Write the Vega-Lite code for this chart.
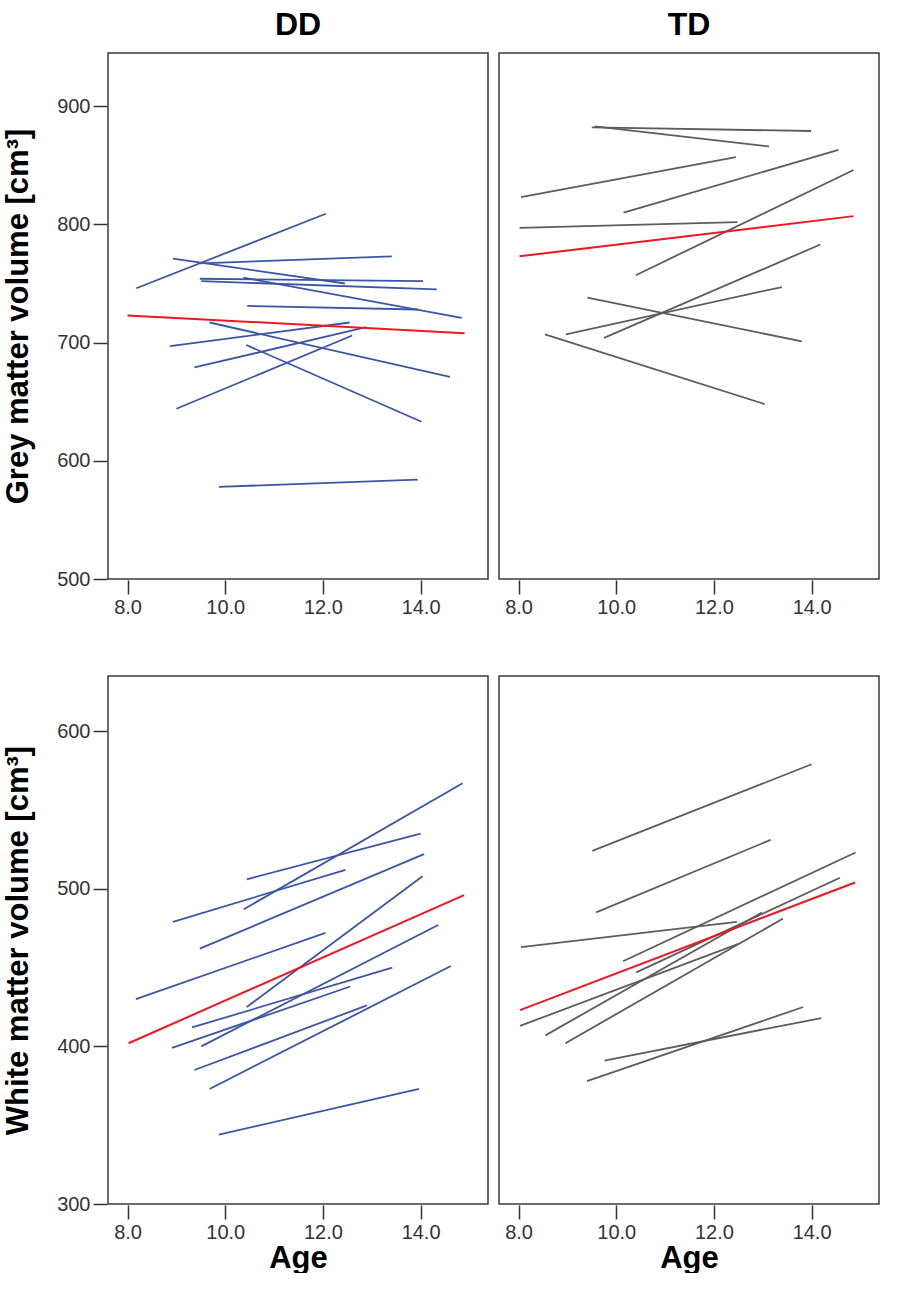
{
  "$schema": "https://vega.github.io/schema/vega-lite/v6.json",
  "background": "white",
  "padding": {"left": 2, "top": 9, "right": 0, "bottom": 0},
  "config": {
    "font": "Liberation Sans",
    "view": {"stroke": "#3a3a3a", "strokeWidth": 1.5},
    "axis": {
      "labelFont": "Liberation Sans",
      "labelFontSize": 20,
      "labelColor": "#333333",
      "tickColor": "#333333",
      "tickWidth": 1.5,
      "tickSize": 14,
      "labelPadding": 3,
      "domain": false,
      "grid": false,
      "titleFont": "Liberation Sans",
      "titleFontSize": 31,
      "titleFontWeight": "bold",
      "titleColor": "black"
    },
    "concat": {"spacing": 58}
  },
  "datasets": {
    "grey": [
      {"group": "DD", "id": "g1", "series": "DD", "age": 8.18, "vol": 746},
      {"group": "DD", "id": "g1", "series": "DD", "age": 12.06, "vol": 809},
      {"group": "DD", "id": "g2", "series": "DD", "age": 8.93, "vol": 771},
      {"group": "DD", "id": "g2", "series": "DD", "age": 12.45, "vol": 750},
      {"group": "DD", "id": "g3", "series": "DD", "age": 9.48, "vol": 767},
      {"group": "DD", "id": "g3", "series": "DD", "age": 13.41, "vol": 773},
      {"group": "DD", "id": "g4", "series": "DD", "age": 9.48, "vol": 754},
      {"group": "DD", "id": "g4", "series": "DD", "age": 14.05, "vol": 752},
      {"group": "DD", "id": "g5", "series": "DD", "age": 9.51, "vol": 752},
      {"group": "DD", "id": "g5", "series": "DD", "age": 14.33, "vol": 745},
      {"group": "DD", "id": "g6", "series": "DD", "age": 10.37, "vol": 755},
      {"group": "DD", "id": "g6", "series": "DD", "age": 14.84, "vol": 721},
      {"group": "DD", "id": "g7", "series": "DD", "age": 10.45, "vol": 731},
      {"group": "DD", "id": "g7", "series": "DD", "age": 13.95, "vol": 728},
      {"group": "DD", "id": "g8", "series": "DD", "age": 9.68, "vol": 717},
      {"group": "DD", "id": "g8", "series": "DD", "age": 14.6, "vol": 671},
      {"group": "DD", "id": "g9", "series": "DD", "age": 8.87, "vol": 697},
      {"group": "DD", "id": "g9", "series": "DD", "age": 12.55, "vol": 717},
      {"group": "DD", "id": "g10", "series": "DD", "age": 9.37, "vol": 679},
      {"group": "DD", "id": "g10", "series": "DD", "age": 12.89, "vol": 713},
      {"group": "DD", "id": "g11", "series": "DD", "age": 10.43, "vol": 698},
      {"group": "DD", "id": "g11", "series": "DD", "age": 14.02, "vol": 633},
      {"group": "DD", "id": "g12", "series": "DD", "age": 9.0, "vol": 644},
      {"group": "DD", "id": "g12", "series": "DD", "age": 12.6, "vol": 706},
      {"group": "DD", "id": "g13", "series": "DD", "age": 9.87, "vol": 578},
      {"group": "DD", "id": "g13", "series": "DD", "age": 13.94, "vol": 584},
      {"group": "DD", "id": "gm", "series": "Mean", "age": 8.0, "vol": 723},
      {"group": "DD", "id": "gm", "series": "Mean", "age": 14.9, "vol": 708},
      {"group": "TD", "id": "t1", "series": "TD", "age": 9.5, "vol": 882},
      {"group": "TD", "id": "t1", "series": "TD", "age": 13.99, "vol": 879},
      {"group": "TD", "id": "t2", "series": "TD", "age": 9.56, "vol": 883},
      {"group": "TD", "id": "t2", "series": "TD", "age": 13.13, "vol": 866},
      {"group": "TD", "id": "t3", "series": "TD", "age": 8.05, "vol": 823},
      {"group": "TD", "id": "t3", "series": "TD", "age": 12.45, "vol": 857},
      {"group": "TD", "id": "t4", "series": "TD", "age": 10.15, "vol": 810},
      {"group": "TD", "id": "t4", "series": "TD", "age": 14.55, "vol": 863},
      {"group": "TD", "id": "t5", "series": "TD", "age": 8.02, "vol": 797},
      {"group": "TD", "id": "t5", "series": "TD", "age": 12.48, "vol": 802},
      {"group": "TD", "id": "t6", "series": "TD", "age": 10.4, "vol": 757},
      {"group": "TD", "id": "t6", "series": "TD", "age": 14.86, "vol": 846},
      {"group": "TD", "id": "t7", "series": "TD", "age": 9.75, "vol": 704},
      {"group": "TD", "id": "t7", "series": "TD", "age": 14.18, "vol": 783},
      {"group": "TD", "id": "t8", "series": "TD", "age": 8.97, "vol": 707},
      {"group": "TD", "id": "t8", "series": "TD", "age": 13.39, "vol": 747},
      {"group": "TD", "id": "t9", "series": "TD", "age": 9.41, "vol": 738},
      {"group": "TD", "id": "t9", "series": "TD", "age": 13.8, "vol": 701},
      {"group": "TD", "id": "t10", "series": "TD", "age": 8.54, "vol": 707},
      {"group": "TD", "id": "t10", "series": "TD", "age": 13.04, "vol": 648},
      {"group": "TD", "id": "tm", "series": "Mean", "age": 8.02, "vol": 773},
      {"group": "TD", "id": "tm", "series": "Mean", "age": 14.86, "vol": 807}
    ],
    "white": [
      {"group": "DD", "id": "w1", "series": "DD", "age": 8.17, "vol": 430},
      {"group": "DD", "id": "w1", "series": "DD", "age": 12.05, "vol": 472},
      {"group": "DD", "id": "w2", "series": "DD", "age": 8.91, "vol": 399},
      {"group": "DD", "id": "w2", "series": "DD", "age": 12.56, "vol": 438},
      {"group": "DD", "id": "w3", "series": "DD", "age": 8.93, "vol": 479},
      {"group": "DD", "id": "w3", "series": "DD", "age": 12.46, "vol": 512},
      {"group": "DD", "id": "w4", "series": "DD", "age": 9.32, "vol": 412},
      {"group": "DD", "id": "w4", "series": "DD", "age": 13.42, "vol": 450},
      {"group": "DD", "id": "w5", "series": "DD", "age": 9.37, "vol": 385},
      {"group": "DD", "id": "w5", "series": "DD", "age": 12.9, "vol": 426},
      {"group": "DD", "id": "w6", "series": "DD", "age": 9.48, "vol": 462},
      {"group": "DD", "id": "w6", "series": "DD", "age": 14.07, "vol": 522},
      {"group": "DD", "id": "w7", "series": "DD", "age": 9.51, "vol": 400},
      {"group": "DD", "id": "w7", "series": "DD", "age": 14.36, "vol": 477},
      {"group": "DD", "id": "w8", "series": "DD", "age": 9.68, "vol": 373},
      {"group": "DD", "id": "w8", "series": "DD", "age": 14.62, "vol": 451},
      {"group": "DD", "id": "w9", "series": "DD", "age": 9.87, "vol": 344},
      {"group": "DD", "id": "w9", "series": "DD", "age": 13.97, "vol": 373},
      {"group": "DD", "id": "w10", "series": "DD", "age": 10.38, "vol": 487},
      {"group": "DD", "id": "w10", "series": "DD", "age": 14.86, "vol": 567},
      {"group": "DD", "id": "w11", "series": "DD", "age": 10.44, "vol": 506},
      {"group": "DD", "id": "w11", "series": "DD", "age": 14.0, "vol": 535},
      {"group": "DD", "id": "w12", "series": "DD", "age": 10.44, "vol": 425},
      {"group": "DD", "id": "w12", "series": "DD", "age": 14.04, "vol": 508},
      {"group": "DD", "id": "wm", "series": "Mean", "age": 8.02, "vol": 402},
      {"group": "DD", "id": "wm", "series": "Mean", "age": 14.89, "vol": 496},
      {"group": "TD", "id": "v1", "series": "TD", "age": 9.51, "vol": 524},
      {"group": "TD", "id": "v1", "series": "TD", "age": 14.0, "vol": 579},
      {"group": "TD", "id": "v2", "series": "TD", "age": 9.59, "vol": 485},
      {"group": "TD", "id": "v2", "series": "TD", "age": 13.16, "vol": 531},
      {"group": "TD", "id": "v3", "series": "TD", "age": 8.05, "vol": 463},
      {"group": "TD", "id": "v3", "series": "TD", "age": 12.47, "vol": 479},
      {"group": "TD", "id": "v4", "series": "TD", "age": 10.14, "vol": 454},
      {"group": "TD", "id": "v4", "series": "TD", "age": 14.9, "vol": 523},
      {"group": "TD", "id": "v5", "series": "TD", "age": 10.41, "vol": 447},
      {"group": "TD", "id": "v5", "series": "TD", "age": 14.58, "vol": 507},
      {"group": "TD", "id": "v6", "series": "TD", "age": 8.03, "vol": 413},
      {"group": "TD", "id": "v6", "series": "TD", "age": 12.5, "vol": 465},
      {"group": "TD", "id": "v7", "series": "TD", "age": 8.55, "vol": 407},
      {"group": "TD", "id": "v7", "series": "TD", "age": 12.98, "vol": 485},
      {"group": "TD", "id": "v8", "series": "TD", "age": 8.96, "vol": 402},
      {"group": "TD", "id": "v8", "series": "TD", "age": 13.41, "vol": 481},
      {"group": "TD", "id": "v9", "series": "TD", "age": 9.76, "vol": 391},
      {"group": "TD", "id": "v9", "series": "TD", "age": 14.2, "vol": 418},
      {"group": "TD", "id": "v10", "series": "TD", "age": 9.4, "vol": 378},
      {"group": "TD", "id": "v10", "series": "TD", "age": 13.83, "vol": 425},
      {"group": "TD", "id": "vm", "series": "Mean", "age": 8.03, "vol": 423},
      {"group": "TD", "id": "vm", "series": "Mean", "age": 14.89, "vol": 504}
    ]
  },
  "vconcat": [
    {
      "data": {"name": "grey"},
      "facet": {
        "column": {
          "field": "group",
          "type": "nominal",
          "header": {
            "title": null,
            "labelFont": "Liberation Sans",
            "labelFontSize": 32,
            "labelFontWeight": "bold",
            "labelColor": "black",
            "labelPadding": 10
          }
        }
      },
      "spacing": 9,
      "spec": {
        "width": 380,
        "height": 526,
        "encoding": {
          "x": {
            "field": "age",
            "type": "quantitative",
            "scale": {"domain": [7.6, 15.38], "nice": false, "zero": false},
            "axis": {"values": [8, 10, 12, 14], "format": ".1f", "title": null}
          },
          "y": {
            "field": "vol",
            "type": "quantitative",
            "scale": {"domain": [500, 945], "nice": false, "zero": false},
            "axis": {"values": [500, 600, 700, 800, 900], "title": "Grey matter volume [cm³]", "titlePadding": 22}
          },
          "color": {
            "field": "series",
            "type": "nominal",
            "scale": {"domain": ["DD", "TD", "Mean"], "range": ["#3b55a6", "#5c5c5c", "#f01820"]},
            "legend": null
          },
          "detail": {"field": "id", "type": "nominal"}
        },
        "layer": [
          {"transform": [{"filter": "datum.series != 'Mean'"}], "mark": {"type": "line", "strokeWidth": 1.8}},
          {"transform": [{"filter": "datum.series == 'Mean'"}], "mark": {"type": "line", "strokeWidth": 2}}
        ]
      }
    },
    {
      "data": {"name": "white"},
      "facet": {
        "column": {
          "field": "group",
          "type": "nominal",
          "header": {"title": null, "labels": false}
        }
      },
      "spacing": 9,
      "spec": {
        "width": 380,
        "height": 528,
        "encoding": {
          "x": {
            "field": "age",
            "type": "quantitative",
            "scale": {"domain": [7.6, 15.38], "nice": false, "zero": false},
            "axis": {"values": [8, 10, 12, 14], "format": ".1f", "title": "Age", "titlePadding": 1}
          },
          "y": {
            "field": "vol",
            "type": "quantitative",
            "scale": {"domain": [300, 635], "nice": false, "zero": false},
            "axis": {"values": [300, 400, 500, 600], "title": "White matter volume [cm³]", "titlePadding": 22}
          },
          "color": {
            "field": "series",
            "type": "nominal",
            "scale": {"domain": ["DD", "TD", "Mean"], "range": ["#3b55a6", "#5c5c5c", "#f01820"]},
            "legend": null
          },
          "detail": {"field": "id", "type": "nominal"}
        },
        "layer": [
          {"transform": [{"filter": "datum.series != 'Mean'"}], "mark": {"type": "line", "strokeWidth": 1.8}},
          {"transform": [{"filter": "datum.series == 'Mean'"}], "mark": {"type": "line", "strokeWidth": 2}}
        ]
      }
    }
  ]
}
